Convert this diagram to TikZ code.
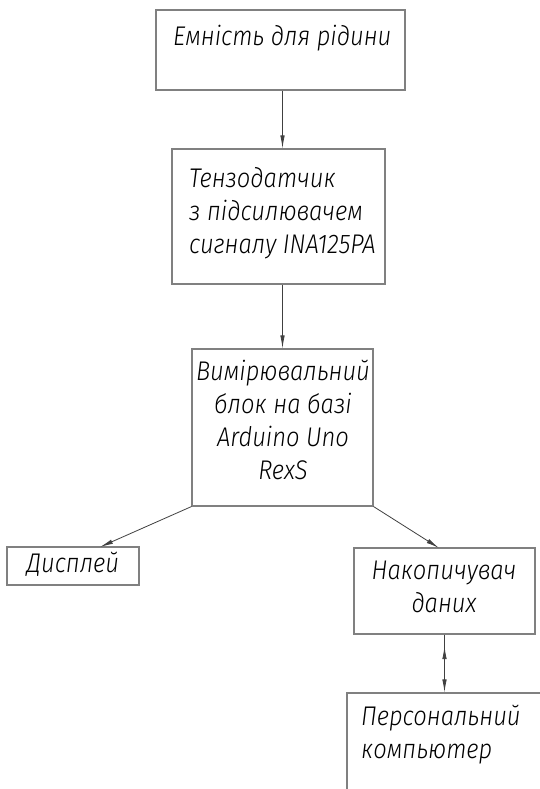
\documentclass[tikz,border=0pt]{standalone}
\usepackage{fontspec}
\setmainfont{Fira Sans}[UprightFont={* Light}, ItalicFont={* Light Italic}, FakeStretch=0.88]
\usetikzlibrary{arrows.meta,decorations.markings}
\begin{document}
\begin{tikzpicture}[x=1pt,y=-1pt,
  box/.style={draw=black!50, line width=1.1pt, inner sep=0pt},
  lbl/.style={inner sep=0pt, font=\fontsize{27}{33}\selectfont\itshape},
  arr/.style={draw=black!75, line width=0.8pt, -{Latex[length=13pt,width=4.5pt]}}]
\useasboundingbox[fill=white] (0,0) rectangle (540,789);
\clip (0,0) rectangle (540,789);
% boxes
\node[box, minimum width=249pt, minimum height=80pt] (b1) at (280.5,50) {};
\node[box, minimum width=213pt, minimum height=135pt] (b2) at (278.5,216.5) {};
\node[box, minimum width=181pt, minimum height=157pt] (b3) at (282.5,427.5) {};
\node[box, minimum width=132pt, minimum height=38pt] (b4) at (73,566) {};
\node[box, minimum width=181pt, minimum height=86pt] (b5) at (444.5,591) {};
\node[box, minimum width=213pt, minimum height=107pt] (b6) at (453.5,746.5) {};
% texts
\node[lbl, anchor=west] (t1) at (173,38) {Емність для рідини};
\node[lbl, anchor=north west, align=left] (t2) at (189,167) {Тензодатчик\\з підсилювачем\\сигналу INA125PA};
\node[lbl, align=center] (t3) at (283,420) {Вимірювальний\\блок на базі\\Arduino Uno\\RexS};
\node[lbl] (t4) at (73,564) {Дисплей};
\node[lbl, align=center] (t5) at (444,587) {Накопичувач\\даних};
\node[lbl, anchor=north west, align=left] (t6) at (361,705) {Персональний\\компьютер};
% connector end points
\coordinate (p4) at (100,547);
\coordinate (p5) at (439,548);
% connectors
\draw[arr] (b1.south -| b3.north) -- (b2.north -| b3.north);
\draw[arr] (b2.south -| b3.north) -- (b3.north);
\draw[arr] (b3.south west) -- (p4);
\draw[arr] (b3.south east) -- (p5);
\draw[arr, postaction={decorate},
  decoration={markings, mark=at position 0.2 with {\arrowreversed{Latex[length=13pt,width=4.5pt]}}}]
  (b5.south) -- (b5.south |- b6.north);
\end{tikzpicture}
\end{document}
